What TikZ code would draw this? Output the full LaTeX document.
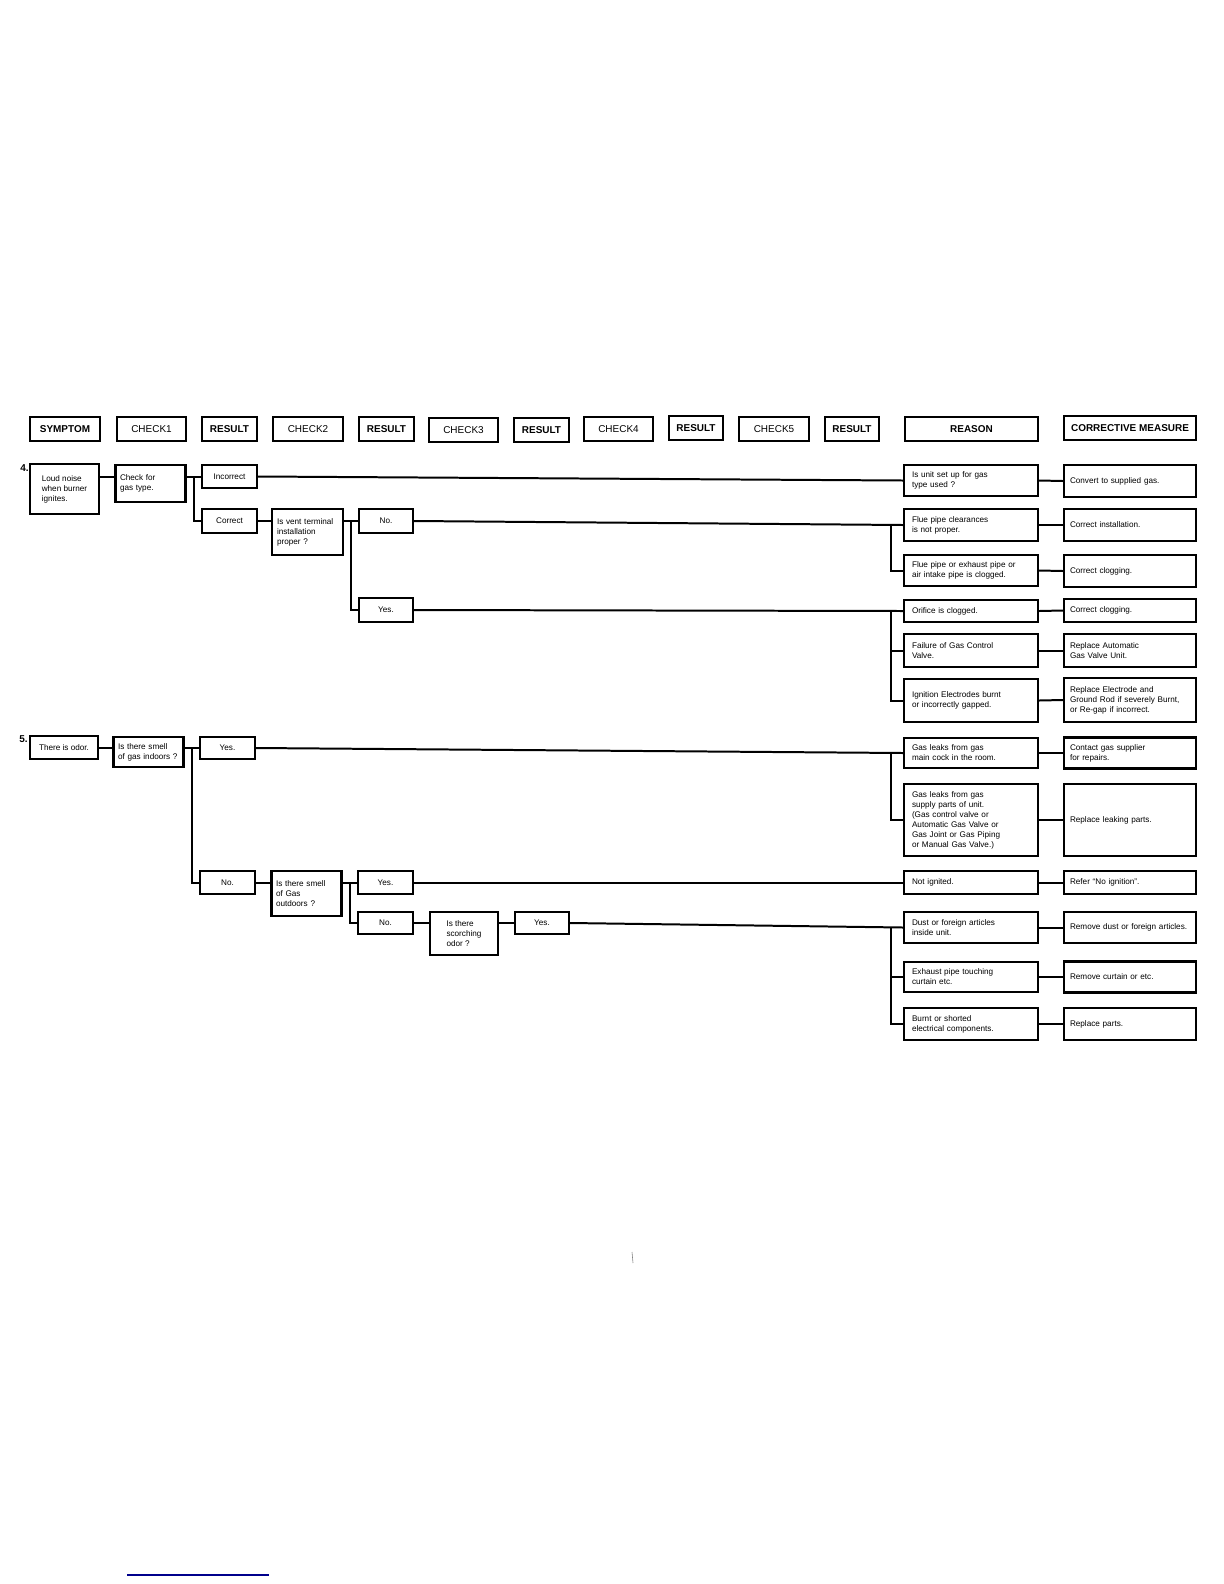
\documentclass[tikz,border=0pt]{standalone}
\usepackage{fontspec}
\setmainfont{Liberation Sans}
\usepackage{tikz}
\usetikzlibrary{calc}
\newcommand\boxfont{\fontsize{4.1}{5}\selectfont}
\newcommand\headfont{\fontsize{5}{6}\selectfont}

\begin{document}
\begin{tikzpicture}[x=0.5bp,y=-0.5bp,
  box/.style={draw,line width=1.2pt,inner ysep=0pt,font=\boxfont},
  sz/.style 2 args={minimum width=#1*0.5bp,minimum height=#2*0.5bp},
  head/.style={box,font=\headfont,inner xsep=0pt},
  chk/.style={box,align=left,text width=30.5bp,inner xsep=2.25bp},
  res/.style={box,align=center,inner xsep=0pt},
  rsn/.style={box,align=left,text width=59bp,inner xsep=4bp},
  msr/.style={box,align=left,text width=60bp,inner xsep=3bp},
  link/.style={line width=1pt}]
\useasboundingbox (0,0) rectangle (1224,1584);

% column heads
\node[head,sz={70}{24}] (hsym) at (65,429) {\bfseries SYMPTOM};
\node[head,sz={69}{24}] (hc1) at (151.5,429) {CHECK1};
\node[head,sz={55}{24}] (hr1) at (229.5,429) {\bfseries RESULT};
\node[head,sz={70}{24}] (hc2) at (308,429) {CHECK2};
\node[head,sz={55}{24}] (hr2) at (386.5,429) {\bfseries RESULT};
\node[head,sz={69}{24}] (hc3) at (463.5,430) {CHECK3};
\node[head,sz={55}{24}] (hr3) at (541.5,430) {\bfseries RESULT};
\node[head,sz={69}{24}] (hc4) at (618.5,429) {CHECK4};
\node[head,sz={54}{24}] (hr4) at (696,428) {\bfseries RESULT};
\node[head,sz={70}{24}] (hc5) at (774,429) {CHECK5};
\node[head,sz={54}{24}] (hr5) at (852,429) {\bfseries RESULT};
\node[head,sz={133}{24}] (hrsn) at (971.5,429) {\bfseries REASON};
\node[head,sz={132}{24}] (hmsr) at (1130,428) {\bfseries CORRECTIVE MEASURE};

% case 4
\node[font=\headfont\bfseries,anchor=east,inner sep=0pt] (n4) at (29,468) {4.};
\node[box,align=left,sz={69}{50}] (s4) at (64.5,489) {Loud noise\\when burner\\ignites.};
\node[chk,sz={69}{37}] (c4) at (150.5,483.5) {Check for\\gas type.};
\node[res,sz={55}{23}] (r4a) at (229.5,476.5) {Incorrect};
\node[res,sz={55}{24}] (r4b) at (229.5,521) {Correct};
\node[chk,sz={71}{46}] (c4b) at (307.5,532) {Is vent terminal\\installation\\proper ?};
\node[res,sz={54}{24}] (r4c) at (386,521) {No.};
\node[res,sz={54}{24}] (r4d) at (386,610) {Yes.};

\node[rsn,sz={134}{31}] (e1) at (971,480.5) {Is unit set up for gas\\type used ?};
\node[rsn,sz={134}{32}] (e2) at (971,525) {Flue pipe clearances\\is not proper.};
\node[rsn,sz={134}{31}] (e3) at (971,570.5) {Flue pipe or exhaust pipe or\\air intake pipe is clogged.};
\node[rsn,sz={134}{22}] (e4) at (971,611) {Orifice is clogged.};
\node[rsn,sz={134}{33}] (e5) at (971,650.5) {Failure of Gas Control\\Valve.};
\node[rsn,sz={134}{43}] (e6) at (971,700.5) {Ignition Electrodes burnt\\or incorrectly gapped.};

\node[msr,sz={132}{32}] (m1) at (1130,481) {Convert to supplied gas.};
\node[msr,sz={132}{32}] (m2) at (1130,525) {Correct installation.};
\node[msr,sz={132}{32}] (m3) at (1130,571) {Correct clogging.};
\node[msr,sz={132}{23}] (m4) at (1130,610.5) {Correct clogging.};
\node[msr,sz={132}{33}] (m5) at (1130,650.5) {Replace Automatic\\Gas Valve Unit.};
\node[msr,sz={132}{44}] (m6) at (1130,700) {Replace Electrode and\\Ground Rod if severely Burnt,\\or Re-gap if incorrect.};

\coordinate (j4) at ($(c4.east |- r4a)!.5!(r4a.west)$);
\coordinate (j4b) at ($(c4b.east |- r4c)!.5!(r4c.west)$);
\draw[link] (s4.east |- r4a) -- (c4.west |- r4a);
\draw[link] (c4.east |- r4a) -- (r4a.west);
\draw[link] (j4) |- (r4b.west);
\draw[link] (r4b.east) -- (r4b.east -| c4b.west);
\draw[link] (c4b.east |- r4c) -- (r4c.west);
\draw[link] (j4b) |- (r4d.west);
\draw[link] (r4a.east) -- (e1.west);
\draw[link] (r4c.east) -- (e2.west);
\draw[link] ([xshift=-6bp]e2.west) |- (e3.west);
\draw[link] (r4d.east) -- (e4.west);
\draw[link] ([xshift=-6bp]e4.west) |- (e5.west);
\draw[link] ([xshift=-6bp]e4.west) |- (e6.west);
\foreach \i in {1,...,6} \draw[link] (e\i.east) -- (m\i.west);

% case 5
\node[font=\headfont\bfseries,anchor=east,inner sep=0pt] (n5) at (28,739) {5.};
\node[box,align=center,sz={68}{23}] (s5) at (64,747.5) {There is odor.};
\node[chk,sz={69}{30}] (c5) at (148.5,752) {Is there smell\\of gas indoors ?};
\node[res,sz={55}{22}] (r5a) at (227.5,748) {Yes.};
\node[res,sz={55}{23}] (r5b) at (227.5,882.5) {No.};
\node[chk,sz={69}{45}] (c5b) at (306.5,893.5) {Is there smell\\of Gas\\outdoors ?};
\node[res,sz={55}{23}] (r5c) at (385.5,882.5) {Yes.};
\node[res,sz={55}{22}] (r5d) at (385.5,923) {No.};
\node[box,align=left,sz={68}{43}] (c5c) at (464,933.5) {Is there\\scorching\\odor ?};
\node[res,sz={54}{22}] (r5e) at (542,923) {Yes.};

\node[rsn,sz={134}{30}] (e7) at (971,753) {Gas leaks from gas\\main cock in the room.};
\node[rsn,sz={134}{72}] (e8) at (971,820) {Gas leaks from gas\\supply parts of unit.\\(Gas control valve or\\Automatic Gas Valve or\\Gas Joint or Gas Piping\\or Manual Gas Valve.)};
\node[rsn,sz={134}{23}] (e9) at (971,882.5) {Not ignited.};
\node[rsn,sz={134}{31}] (e10) at (971,927.5) {Dust or foreign articles\\inside unit.};
\node[rsn,sz={134}{30}] (e11) at (971,977) {Exhaust pipe touching\\curtain etc.};
\node[rsn,sz={134}{32}] (e12) at (971,1024) {Burnt or shorted\\electrical components.};

\node[msr,sz={132}{31}] (m7) at (1130,753) {Contact gas supplier\\for repairs.};
\node[msr,sz={132}{72}] (m8) at (1130,820) {Replace leaking parts.};
\node[msr,sz={132}{23}] (m9) at (1130,882.5) {Refer “No ignition”.};
\node[msr,sz={132}{31}] (m10) at (1130,927.5) {Remove dust or foreign articles.};
\node[msr,sz={132}{31}] (m11) at (1130,977) {Remove curtain or etc.};
\node[msr,sz={132}{32}] (m12) at (1130,1024) {Replace parts.};

\coordinate (j5) at ($(c5.east |- r5a)!.5!(r5a.west)$);
\coordinate (j5b) at ($(c5b.east |- r5c)!.5!(r5c.west)$);
\draw[link] (s5.east) -- (s5.east -| c5.west);
\draw[link] (c5.east |- r5a) -- (r5a.west);
\draw[link] (j5) |- (r5b.west);
\draw[link] (r5b.east) -- (r5b.east -| c5b.west);
\draw[link] (c5b.east |- r5c) -- (r5c.west);
\draw[link] (j5b) |- (r5d.west);
\draw[link] (r5d.east) -- (r5d.east -| c5c.west);
\draw[link] (c5c.east |- r5e) -- (r5e.west);
\draw[link] (r5a.east) -- (e7.west);
\draw[link] ([xshift=-6bp]e7.west) |- (e8.west);
\draw[link] (r5c.east) -- (e9.west);
\draw[link] (r5e.east) -- (e10.west);
\draw[link] ([xshift=-6bp]e10.west) |- (e11.west);
\draw[link] ([xshift=-6bp]e10.west) |- (e12.west);
\foreach \i in {7,...,12} \draw[link] (e\i.east) -- (m\i.west);

\draw[gray,line width=0.3pt] (632,1252) -- (633,1263);
\draw[blue!55!black,line width=0.8pt] (127,1575) -- (269,1575);
\end{tikzpicture}
\end{document}
